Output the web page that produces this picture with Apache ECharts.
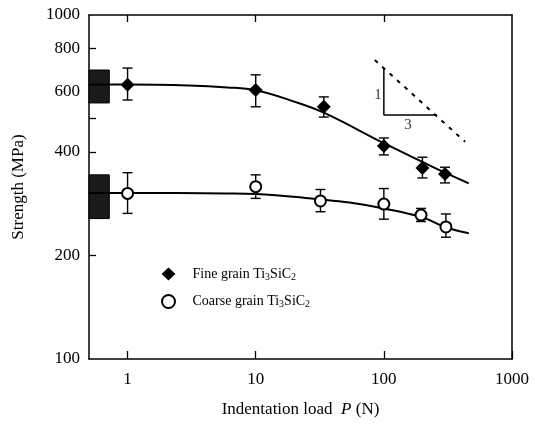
<!DOCTYPE html>
<html>
<head>
<meta charset="utf-8">
<script src="https://cdn.jsdelivr.net/npm/echarts@6/dist/echarts.min.js"></script>
<style>html,body{margin:0;background:#fff}#chart{width:544px;height:429px}</style>
</head>
<body>
<div id="chart"></div>
<script>
// measured points (load in N, strength in MPa)
const fineLoad = [1, 10, 34, 100, 200, 300];
const fineStrength = [627, 605, 541, 416, 359, 345];
const fineLow = [566, 541, 505, 392, 336, 325];
const fineHigh = [701, 670, 578, 439, 386, 361];

const coarseLoad = [1, 10, 32, 100, 195, 305];
const coarseStrength = [303, 317, 288, 282, 262, 242];
const coarseLow = [265, 293, 268, 255, 251, 226];
const coarseHigh = [348, 343, 311, 313, 274, 264];

// fitted curves
const fineFitLoad = [0.5, 1, 3, 6, 10, 20, 34, 100, 200, 300, 460];
const fineFitStrength = [628, 628, 624, 616, 604, 560, 520, 424, 374, 348, 324];
const coarseFitLoad = [0.5, 1, 6, 10, 32, 54, 100, 200, 300, 460];
const coarseFitStrength = [304, 304, 303, 302, 291, 285, 274, 258, 242, 232];

// unindented strength bands
const fineBand = [[0.5, 692], [0.72, 555]];
const coarseBand = [[0.5, 343], [0.72, 256]];

// slope -1/3 guide
const slopeLine = [[85, 740], [430, 428]];
const triangle = [[100, 701], [100, 512], [259, 512]];
const triangleText = [[90, 585, '1'], [154, 479, '3']];

const xTicks = [1, 10, 100, 1000];
const yLabels = [100, 200, 400, 600, 800, 1000];
const yTicks = [200, 300, 400, 500, 600, 800];

const serif = 'Liberation Serif';

function errorBars(load, low, high) {
    return {
        type: 'custom',
        data: load.map((x, i) => [x, low[i], high[i]]),
        encode: { x: 0, y: [1, 2] },
        renderItem: (params, api) => {
            const lo = api.coord([api.value(0), api.value(1)]);
            const hi = api.coord([api.value(0), api.value(2)]);
            const w = 5;
            const style = { stroke: '#000', lineWidth: 1.4 };
            return {
                type: 'group', children: [
                    { type: 'line', shape: { x1: lo[0], y1: lo[1], x2: hi[0], y2: hi[1] }, style },
                    { type: 'line', shape: { x1: lo[0] - w, y1: lo[1], x2: lo[0] + w, y2: lo[1] }, style },
                    { type: 'line', shape: { x1: hi[0] - w, y1: hi[1], x2: hi[0] + w, y2: hi[1] }, style }
                ]
            };
        },
        z: 2
    };
}

const bandStyle = {
    color: '#1a1a1a',
    borderColor: '#000',
    borderWidth: 1,
    opacity: 1
};

const chart = echarts.init(document.getElementById('chart'));
const option = {
    animation: false,
    grid: { left: 89, right: 32, top: 15, bottom: 70 },
    textStyle: { fontFamily: serif, color: '#000' },
    legend: {
        orient: 'vertical',
        left: 156,
        top: 262,
        itemWidth: 14,
        itemHeight: 13,
        itemGap: 12,
        data: [
            { name: 'fine', icon: 'diamond' },
            { name: 'coarse', icon: 'emptyCircle', itemStyle: { borderWidth: 1.6 } }
        ],
        formatter: name => name === 'fine'
            ? '{a|Fine grain Ti}{s|3}{a|SiC}{s|2}'
            : '{a|Coarse grain Ti}{s|3}{a|SiC}{s|2}',
        textStyle: {
            padding: [0, 0, 0, 12],
            rich: {
                a: { fontFamily: serif, fontSize: 14, color: '#000' },
                s: { fontFamily: serif, fontSize: 10, color: '#000', verticalAlign: 'bottom', padding: [6, 0, 0, 0] }
            }
        }
    },
    xAxis: [{
        type: 'log',
        min: 0.5,
        max: 1000,
        name: '{a|Indentation load  }{i|P}{a| (N)}',
        nameLocation: 'middle',
        nameGap: 42,
        nameTextStyle: {
            rich: {
                a: { fontFamily: serif, fontSize: 17, color: '#000' },
                i: { fontFamily: serif, fontSize: 17, fontStyle: 'italic', color: '#000' }
            }
        },
        axisLine: { lineStyle: { color: '#000', width: 1.5 } },
        axisTick: { inside: true, length: 8, customValues: xTicks, lineStyle: { color: '#000', width: 1.3 } },
        axisLabel: { customValues: xTicks, formatter: v => String(v), margin: 12, fontSize: 17, color: '#000', fontFamily: serif },
        splitLine: { show: false }
    }, {
        type: 'log',
        position: 'top',
        min: 0.5,
        max: 1000,
        axisLine: { lineStyle: { color: '#000', width: 1.5 } },
        axisTick: { inside: true, length: 7, customValues: [1, 10, 100], lineStyle: { color: '#000', width: 1.3 } },
        axisLabel: { show: false },
        splitLine: { show: false }
    }],
    yAxis: [{
        type: 'log',
        min: 100,
        max: 1000,
        name: 'Strength (MPa)',
        nameLocation: 'middle',
        nameGap: 62,
        nameTextStyle: { fontFamily: serif, fontSize: 17, color: '#000' },
        axisLine: { lineStyle: { color: '#000', width: 1.5 } },
        axisTick: { inside: true, length: 7, customValues: yTicks, lineStyle: { color: '#000', width: 1.3 } },
        axisLabel: { customValues: yLabels, formatter: v => String(v), margin: 9, fontSize: 17, color: '#000', fontFamily: serif },
        splitLine: { show: false }
    }, {
        type: 'log',
        position: 'right',
        min: 100,
        max: 1000,
        axisLine: { lineStyle: { color: '#000', width: 1.5 } },
        axisTick: { show: false },
        axisLabel: { show: false },
        splitLine: { show: false }
    }],
    series: [
        {
            name: 'fineFit',
            type: 'line',
            data: fineFitLoad.map((x, i) => [x, fineFitStrength[i]]),
            smooth: 0.4,
            showSymbol: false,
            lineStyle: { color: '#000', width: 2 },
            markArea: {
                silent: true,
                itemStyle: bandStyle,
                data: [[{ coord: fineBand[0] }, { coord: fineBand[1] }]]
            },
            z: 1
        },
        {
            name: 'coarseFit',
            type: 'line',
            data: coarseFitLoad.map((x, i) => [x, coarseFitStrength[i]]),
            smooth: 0.4,
            showSymbol: false,
            lineStyle: { color: '#000', width: 2 },
            markArea: {
                silent: true,
                itemStyle: bandStyle,
                data: [[{ coord: coarseBand[0] }, { coord: coarseBand[1] }]]
            },
            z: 1
        },
        errorBars(fineLoad, fineLow, fineHigh),
        errorBars(coarseLoad, coarseLow, coarseHigh),
        {
            name: 'fine',
            type: 'scatter',
            symbol: 'diamond',
            symbolSize: 14,
            itemStyle: { color: '#000', opacity: 1 },
            data: fineLoad.map((x, i) => [x, fineStrength[i]]),
            z: 3
        },
        {
            name: 'coarse',
            type: 'scatter',
            symbol: 'emptyCircle',
            symbolSize: 11,
            itemStyle: { color: '#000', borderWidth: 1.6, opacity: 1 },
            data: coarseLoad.map((x, i) => [x, coarseStrength[i]]),
            z: 3
        },
        {
            name: 'slope',
            type: 'line',
            data: slopeLine,
            showSymbol: false,
            lineStyle: { color: '#000', width: 2, type: [4, 6] }
        },
        {
            name: 'triangle',
            type: 'line',
            data: triangle,
            showSymbol: false,
            lineStyle: { color: '#000', width: 1.5 }
        },
        {
            name: 'triangleText',
            type: 'scatter',
            symbolSize: 0,
            data: triangleText,
            label: {
                show: true,
                position: 'inside',
                formatter: p => p.data[2],
                fontFamily: serif,
                fontSize: 15,
                color: '#000'
            }
        }
    ]
};
chart.setOption(option);
</script>
</body>
</html>
